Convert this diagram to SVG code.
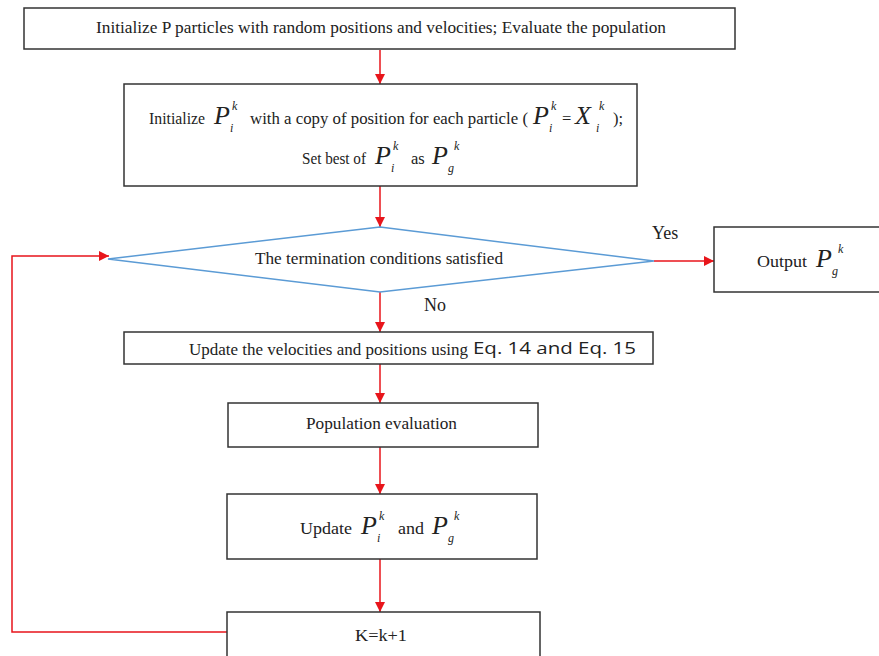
<svg xmlns="http://www.w3.org/2000/svg" width="879" height="656" viewBox="0 0 879 656">
<defs>
<style>
.box{fill:#fff;stroke:#333;stroke-width:1.5}
.dia{fill:#fff;stroke:#5b9bd5;stroke-width:1.5}
.t{font-family:"Liberation Serif",serif;font-size:16.5px;fill:#222}
.m{font-family:"Liberation Serif",serif;font-style:italic;font-size:26px;fill:#222}
.sm{font-family:"Liberation Serif",serif;font-style:italic;font-size:12px;fill:#222}
.c{stroke:#e8151b;stroke-width:1.5;fill:none}
.s{font-family:"Open Sans",sans-serif;font-size:16px;fill:#222}
</style>
<marker id="ah" viewBox="0 0 10 10" refX="10" refY="5" markerWidth="10" markerHeight="10" markerUnits="userSpaceOnUse" orient="auto">
<path d="M0,0 L10,5 L0,10 z" fill="#e8151b"/>
</marker>
</defs>
<g id="connectors">
<line class="c" x1="380" y1="50" x2="380" y2="84" marker-end="url(#ah)"/>
<line class="c" x1="380" y1="186" x2="380" y2="227" marker-end="url(#ah)"/>
<line class="c" x1="380" y1="292" x2="380" y2="332" marker-end="url(#ah)"/>
<line class="c" x1="380" y1="364" x2="380" y2="403" marker-end="url(#ah)"/>
<line class="c" x1="380" y1="447" x2="380" y2="494" marker-end="url(#ah)"/>
<line class="c" x1="380" y1="559" x2="380" y2="612" marker-end="url(#ah)"/>
<line class="c" x1="654" y1="261" x2="714" y2="261" marker-end="url(#ah)"/>
<polyline class="c" points="227,632 12,632 12,256 109,256" marker-end="url(#ah)"/>
<text class="t" x="652" y="239" style="font-size:18px">Yes</text>
<text class="t" x="424" y="311" style="font-size:18px">No</text>
</g>
<g id="init">
<rect class="box" x="24" y="8" width="711" height="41"/>
<text class="t" x="96" y="33" textLength="570" lengthAdjust="spacingAndGlyphs">Initialize P particles with random positions and velocities; Evaluate the population</text>
</g>
<g id="initP">
<rect class="box" x="124" y="84" width="513" height="102"/>
<text class="t" x="149" y="124" textLength="56" lengthAdjust="spacingAndGlyphs">Initialize</text>
<text class="m" x="214" y="124">P</text>
<text class="sm" x="230" y="132">i</text>
<text class="sm" x="232" y="110">k</text>
<text class="t" x="250" y="124" textLength="278" lengthAdjust="spacingAndGlyphs">with a copy of position for each particle (</text>
<text class="m" x="533" y="124">P</text>
<text class="sm" x="549" y="132">i</text>
<text class="sm" x="551" y="110">k</text>
<text class="t" x="562" y="124">=</text>
<text class="m" x="575" y="124">X</text>
<text class="sm" x="596" y="132">i</text>
<text class="sm" x="599" y="110">k</text>
<text class="t" x="613" y="124">);</text>
<text class="t" x="302" y="164" textLength="64" lengthAdjust="spacingAndGlyphs">Set best of</text>
<text class="m" x="375" y="164">P</text>
<text class="sm" x="391" y="172">i</text>
<text class="sm" x="393" y="150">k</text>
<text class="t" x="411" y="164">as</text>
<text class="m" x="432" y="164">P</text>
<text class="sm" x="448" y="172">g</text>
<text class="sm" x="454" y="150">k</text>
</g>
<g id="decision">
<polygon class="dia" points="380,227 654,261 380,292 108,259"/>
<text class="t" x="255" y="264" textLength="248" lengthAdjust="spacingAndGlyphs">The termination  conditions satisfied</text>
</g>
<g id="output">
<rect class="box" x="714" y="227" width="170" height="65"/>
<text class="t" x="757" y="267" textLength="50" lengthAdjust="spacingAndGlyphs">Output</text>
<text class="m" x="816" y="267">P</text>
<text class="sm" x="832" y="275">g</text>
<text class="sm" x="838" y="253">k</text>
</g>
<g id="update">
<rect class="box" x="124" y="332" width="529" height="32"/>
<text class="t" x="189" y="355" textLength="279" lengthAdjust="spacingAndGlyphs">Update the velocities and positions using</text>
<text class="s" x="473" y="354" textLength="163" lengthAdjust="spacingAndGlyphs">Eq. 14 and Eq. 15</text>
</g>
<g id="popeval">
<rect class="box" x="228" y="403" width="310" height="44"/>
<text class="t" x="306" y="429" textLength="151" lengthAdjust="spacingAndGlyphs">Population evaluation</text>
</g>
<g id="updateP">
<rect class="box" x="227" y="494" width="310" height="65"/>
<text class="t" x="300" y="534" textLength="52" lengthAdjust="spacingAndGlyphs">Update</text>
<text class="m" x="361" y="534">P</text>
<text class="sm" x="377" y="542">i</text>
<text class="sm" x="379" y="520">k</text>
<text class="t" x="398" y="534" textLength="26" lengthAdjust="spacingAndGlyphs">and</text>
<text class="m" x="432" y="534">P</text>
<text class="sm" x="448" y="542">g</text>
<text class="sm" x="454" y="520">k</text>
</g>
<g id="incr">
<rect class="box" x="227" y="612" width="313" height="50"/>
<text class="t" x="355" y="641" textLength="52" lengthAdjust="spacingAndGlyphs">K=k+1</text>
</g>
</svg>
